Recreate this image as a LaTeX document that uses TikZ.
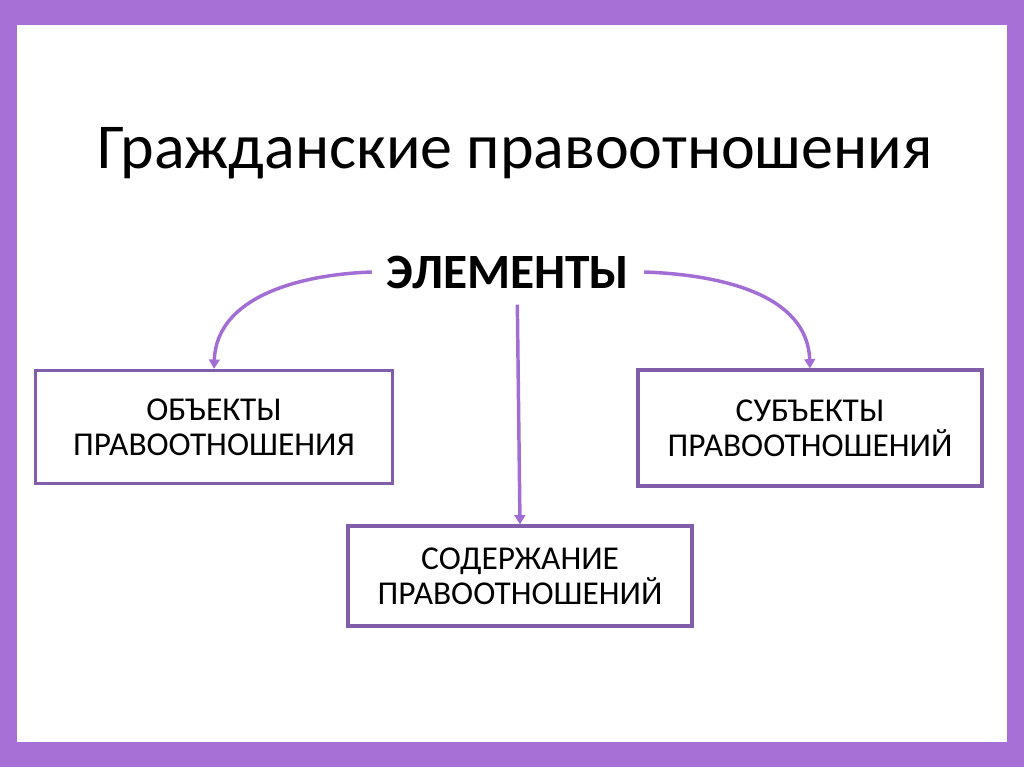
\documentclass[tikz,border=0pt]{standalone}
\usepackage{fontspec}
\setmainfont{Carlito}
\usetikzlibrary{arrows.meta}
\definecolor{frame}{RGB}{166,112,214}
\definecolor{boxline}{RGB}{128,94,170}
\definecolor{arrowc}{RGB}{162,110,214}
\tikzset{
  elembox/.style={draw=boxline, line width=2.3pt, align=center, font=\fontsize{25}{26}\selectfont, inner sep=0pt},
  link/.style={draw=arrowc, line width=2.6pt, -{Triangle[length=7pt,width=8pt]}}
}
\begin{document}
\begin{tikzpicture}[x=0.75pt,y=-0.75pt]
\fill[frame] (0,0) rectangle (1024,767);
\fill[white] (17,25) rectangle (1007,742);
\node[font=\fontsize{48}{50}\selectfont] (title) at (515,153) {Гражданские правоотношения};
\node[font=\fontsize{37}{38}\selectfont\bfseries, inner xsep=11pt, inner ysep=12pt] (elem) at (508,272) {ЭЛЕМЕНТЫ};
\node[elembox, minimum width=268pt, minimum height=85pt] (obj) at (214,427) {ОБЪЕКТЫ\\ПРАВООТНОШЕНИЯ};
\node[elembox, minimum width=258pt, minimum height=87pt] (subj) at (810,428) {СУБЪЕКТЫ\\ПРАВООТНОШЕНИЙ};
\node[elembox, minimum width=258pt, minimum height=75pt] (cont) at (520,576) {СОДЕРЖАНИЕ\\ПРАВООТНОШЕНИЙ};
\draw[link] (elem.west) to[out=182,in=88] (obj.north);
\draw[link] (elem.east) to[out=-2,in=92] (subj.north);
\draw[link] ([xshift=7pt]elem.south) -- (cont.north);
\end{tikzpicture}
\end{document}
